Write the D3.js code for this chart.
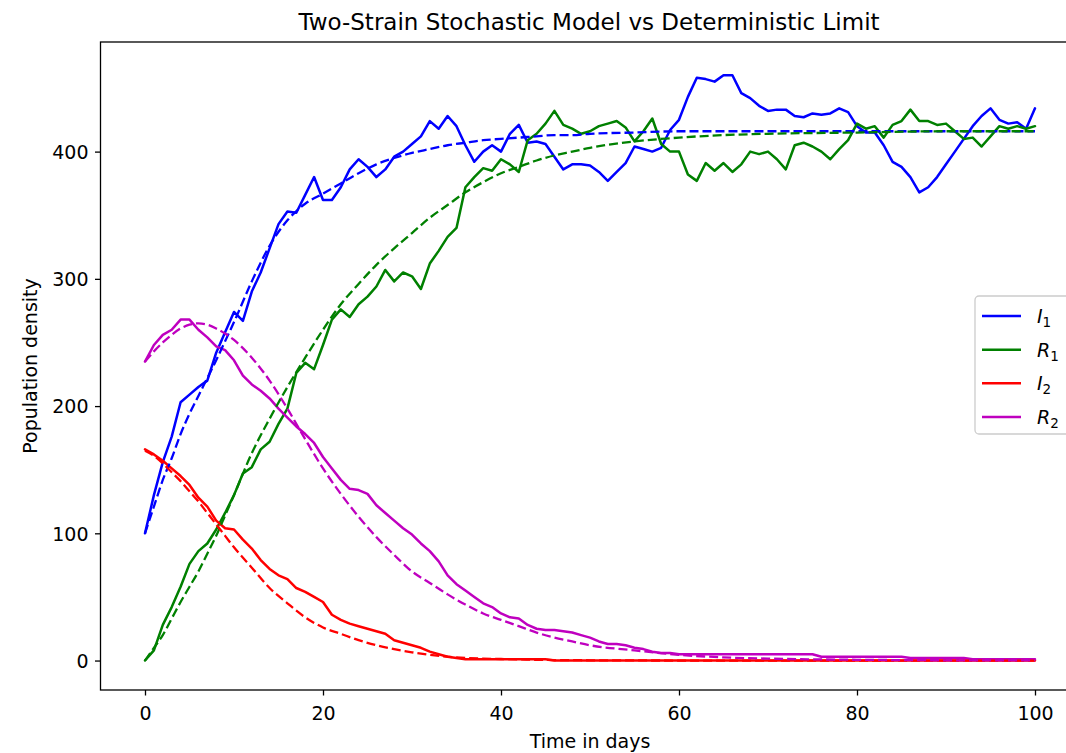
<!DOCTYPE html>
<html>
<head>
<meta charset="utf-8">
<script src="https://cdn.jsdelivr.net/npm/d3@7/dist/d3.min.js"></script>
<style>
  html, body { margin: 0; padding: 0; background: #ffffff; }
  svg { display: block; font-family: "DejaVu Sans", sans-serif; }
</style>
</head>
<body>
<svg id="chart" width="1066" height="753"></svg>
<script>
// ---------------- data ----------------
const title = "Two-Strain Stochastic Model vs Deterministic Limit";
const xLabel = "Time in days";
const yLabel = "Population density";
const xTicks = [0, 20, 40, 60, 80, 100];
const yTicks = [0, 100, 200, 300, 400];

// stochastic simulation, one value per day (day 0 .. 100)
const stochDays = [0,1,2,3,4,5,6,7,8,9,10,11,12,13,14,15,16,17,18,19,20,21,22,23,24,25,26,27,28,29,30,31,32,33,34,35,36,37,38,39,40,41,42,43,44,45,46,47,48,49,50,51,52,53,54,55,56,57,58,59,60,61,62,63,64,65,66,67,68,69,70,71,72,73,74,75,76,77,78,79,80,81,82,83,84,85,86,87,88,89,90,91,92,93,94,95,96,97,98,99,100];

const I1 = [100,130,156,176,203,209,215,220,242,258,
            274,267,290,305,324,343,353,352,366,380,
            362,362,372,386,394,388,380,386,396,400,
            406,412,424,418,428,420,405,392,400,405,
            400,414,421,407,408,406,396,386,390,390,
            389,384,377,384,391,404,402,400,403,417,
            425,443,458,457,455,460,460,446,442,436,
            432,433,433,428,427,430,429,430,434,431,
            420,415,415,405,392,388,380,368,372,380,
            390,400,410,420,428,434,425,422,423,418,
            434];

const R1 = [0,8,28,42,58,76,86,92,103,116,
            130,147,152,166,172,186,198,226,234,229,
            248,268,276,270,280,286,294,307,298,305,
            302,292,312,322,333,340,372,380,387,385,
            394,390,384,409,414,422,432,421,418,414,
            416,420,422,424,419,408,416,426,406,400,
            400,382,377,391,385,391,384,390,400,398,
            400,394,386,405,407,404,400,394,402,409,
            422,418,420,411,421,424,433,424,424,421,
            422,416,410,411,404,412,420,418,420,418,
            420];

const I2 = [166,162,157,151,145,138,128,121,110,104,
            103,95,88,79,72,67,64,57,54,50,
            46,36,32,29,27,25,23,21,16,14,
            12,10,7,5,3,2,1,1,1,1,
            1,1,1,1,1,1,0,0,0,0,
            0,0,0,0,0,0,0,0,0,0,
            0,0,0,0,0,0,0,0,0,0,
            0,0,0,0,0,0,0,0,0,0,
            0,0,0,0,0,0,0,0,0,0,
            0,0,0,0,0,0,0,0,0,0,
            0];

const R2 = [235,248,256,260,268,268,260,254,247,244,
            236,224,217,212,206,198,191,184,178,171,
            160,151,142,135,134,131,122,116,110,104,
            99,92,86,78,67,60,55,50,45,42,
            37,34,33,28,25,24,24,23,22,20,
            18,15,13,13,12,10,9,7,6,6,
            5,5,5,5,5,5,5,5,5,5,
            5,5,5,5,5,5,3,3,3,3,
            3,3,3,3,3,3,2,2,2,2,
            2,2,2,1,1,1,1,1,1,1,
            1];

// deterministic limit, sampled days
const detDays = [0,1,2,3,4,5,6,7,8,9,10,12,14,16,18,20,22,24,26,28,30,32,34,36,38,40,42,44,46,48,50,55,60,65,70,80,90,100];
const I1det = [100,121,142,159,178,194,208,222,236,251,266,298,326,346,359,367,375,383,390,395,399,402,405,407,409,410,411,412,413,413,414,415,416,416,416,416,416,416];
const R1det = [0,10,20,33,46,58,70,84,98,114,130,163,190,215,238,260,280,296,311,324,336,348,358,368,376,383,388,393,397,400,403,408,411,413,414,415,416,416];
const I2det = [165,161,155,148,141,133,125,116,107,98,89,73,57,45,34,26,21,16,12,9,6.5,4.5,3,2,1.5,1.2,0.9,0.6,0.4,0.3,0.2,0.1,0,0,0,0,0,0];
const R2det = [235,243,250,256,261,264,265,264,261,257,252,238,220,198,174,151,131,113,97,83,70,61,52,44,37,32,27,22,18,15,12,8,4.5,2.5,1.5,0.6,0.2,0.1];

const seriesNames = ["I1", "R1", "I2", "R2"];
const seriesColors = ["#0000ff", "#008000", "#ff0000", "#bf00bf"];
const stochValues = [I1, R1, I2, R2];
const detValues = [I1det, R1det, I2det, R2det];

// ---------------- layout ----------------
const svg = d3.select("#chart");
const plot = { left: 100.5, right: 1079.5, top: 42, bottom: 690 };
const tickFont = "19px";

const x = d3.scaleLinear().domain([-5, 105]).range([plot.left, plot.right]);
const y = d3.scaleLinear().domain([-23.15, 486.15]).range([plot.bottom, plot.top]);

svg.append("defs").append("clipPath").attr("id", "clip")
  .append("rect")
  .attr("x", plot.left).attr("y", plot.top)
  .attr("width", plot.right - plot.left).attr("height", plot.bottom - plot.top);

const lines = svg.append("g").attr("clip-path", "url(#clip)");

const stochLine = d3.line()
  .x((d, i) => x(stochDays[i]))
  .y(d => y(d))
  .curve(d3.curveLinear);

const detLine = d3.line()
  .x((d, i) => x(detDays[i]))
  .y(d => y(d))
  .curve(d3.curveMonotoneX);

stochValues.forEach((vals, k) => {
  lines.append("path")
    .attr("d", stochLine(vals))
    .attr("fill", "none")
    .attr("stroke", seriesColors[k])
    .attr("stroke-width", 2.5)
    .attr("stroke-linejoin", "round")
    .attr("stroke-linecap", "round");
});

detValues.forEach((vals, k) => {
  lines.append("path")
    .attr("d", detLine(vals))
    .attr("fill", "none")
    .attr("stroke", seriesColors[k])
    .attr("stroke-width", 2.3)
    .attr("stroke-dasharray", "9,4");
});

// ---------------- axes ----------------
const xAxis = d3.axisBottom(x).tickValues(xTicks).tickSize(5.5).tickPadding(5.5);
const yAxis = d3.axisLeft(y).tickValues(yTicks).tickSize(5.5).tickPadding(6.5);

const gx = svg.append("g").attr("transform", `translate(0,${plot.bottom})`).call(xAxis);
const gy = svg.append("g").attr("transform", `translate(${plot.left},0)`).call(yAxis);

[gx, gy].forEach(g => {
  g.select(".domain").remove();
  g.selectAll(".tick line").attr("stroke", "#000").attr("stroke-width", 1.3);
  g.selectAll(".tick text")
    .attr("fill", "#000")
    .style("font-family", "'DejaVu Sans', sans-serif")
    .style("font-size", tickFont);
});
gx.selectAll(".tick text").attr("y", 30).attr("dy", null);
gy.selectAll(".tick text").attr("dy", "0.36em");

// spines
svg.append("rect")
  .attr("x", plot.left).attr("y", plot.top)
  .attr("width", plot.right - plot.left).attr("height", plot.bottom - plot.top)
  .attr("fill", "none").attr("stroke", "#000").attr("stroke-width", 1.3);

// ---------------- texts ----------------
svg.append("text")
  .attr("x", 589).attr("y", 30)
  .attr("text-anchor", "middle")
  .style("font-size", "23px")
  .text(title);

svg.append("text")
  .attr("x", 590).attr("y", 748)
  .attr("text-anchor", "middle")
  .style("font-size", tickFont)
  .text(xLabel);

svg.append("text")
  .attr("transform", `translate(37,${(plot.top + plot.bottom) / 2}) rotate(-90)`)
  .attr("text-anchor", "middle")
  .style("font-size", tickFont)
  .text(yLabel);

// ---------------- legend ----------------
const legend = svg.append("g");
legend.append("rect")
  .attr("x", 975).attr("y", 296)
  .attr("width", 97).attr("height", 138)
  .attr("rx", 4)
  .attr("fill", "#ffffff").attr("fill-opacity", 0.8)
  .attr("stroke", "#cccccc").attr("stroke-width", 1.3);

const legendY = d3.scalePoint().domain(seriesNames).range([316, 417]);

seriesNames.forEach((name, k) => {
  const ly = legendY(name);
  legend.append("line")
    .attr("x1", 982).attr("x2", 1021)
    .attr("y1", ly).attr("y2", ly)
    .attr("stroke", seriesColors[k]).attr("stroke-width", 2.5);
  const t = legend.append("text")
    .attr("x", 1037).attr("y", ly + 7)
    .style("font-size", tickFont);
  t.append("tspan").style("font-style", "italic").text(name.charAt(0));
  t.append("tspan").attr("dy", 4).style("font-size", "13.5px").text(name.slice(1));
});
</script>
</body>
</html>
